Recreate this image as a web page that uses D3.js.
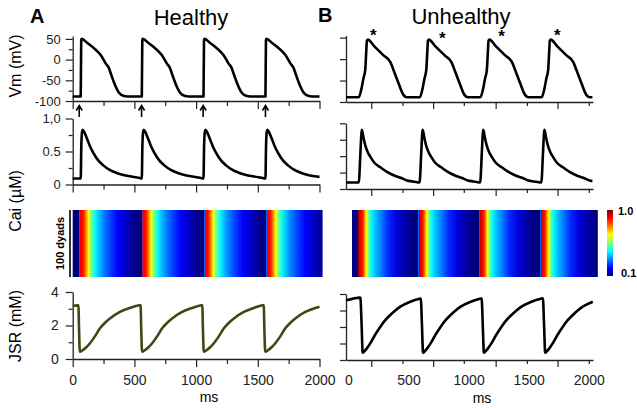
<!DOCTYPE html>
<html>
<head>
<meta charset="utf-8">
<script src="https://cdn.jsdelivr.net/npm/d3@7"></script>
<style>
  body { margin: 0; background: #fff; }
  svg { display: block; }
  text { font-family: "Liberation Sans", Arial, sans-serif; }
</style>
</head>
<body>
<div id="chart"></div>
<script>
// ---- data: [time (ms), value] ----
const vmHealthy = [[0,-89],[65,-89],[69,47],[73,50],[119,40],[173,27.5],[227,11],[267,-9],[294,-21],[308,-33],[327,-49],[348,-65],[375,-80],[416,-88],[443,-89],
  [560,-89],[564,47],[568,50],[614,40],[668,27.5],[722,11],[762,-9],[789,-21],[803,-33],[822,-49],[843,-65],[870,-80],[911,-88],[938,-89],
  [1060,-89],[1064,47],[1068,50],[1114,40],[1168,27.5],[1222,11],[1262,-9],[1289,-21],[1303,-33],[1322,-49],[1343,-65],[1370,-80],[1411,-88],[1438,-89],
  [1562,-89],[1566,47],[1570,50],[1616,40],[1670,27.5],[1724,11],[1764,-9],[1791,-21],[1805,-33],[1824,-49],[1845,-65],[1872,-80],[1913,-88],[1940,-89],[2000,-89]];

const caHealthy = [[0,0.09],[65,0.09],[70,0.6],[76,0.8],[81,0.83],[95,0.79],[113,0.71],[140,0.58],[167,0.48],[205,0.37],[248,0.29],[300,0.22],[356,0.175],[410,0.145],[464,0.125],[510,0.11],[544,0.10],
  [560,0.09],[565,0.6],[571,0.8],[576,0.83],[590,0.79],[608,0.71],[635,0.58],[662,0.48],[700,0.37],[743,0.29],[795,0.22],[851,0.175],[905,0.145],[959,0.125],[1005,0.11],[1039,0.10],
  [1060,0.09],[1065,0.6],[1071,0.8],[1076,0.83],[1090,0.79],[1108,0.71],[1135,0.58],[1162,0.48],[1200,0.37],[1243,0.29],[1295,0.22],[1351,0.175],[1405,0.145],[1459,0.125],[1505,0.11],[1539,0.10],
  [1562,0.09],[1567,0.6],[1573,0.8],[1578,0.83],[1592,0.79],[1610,0.71],[1637,0.58],[1664,0.48],[1702,0.37],[1745,0.29],[1797,0.22],[1853,0.175],[1907,0.145],[1961,0.125],[2000,0.115]];

const jsrHealthy = [[0,3.18],[46,3.2],[52,1.6],[58,0.44],[62,0.44],[80,0.52],[110,0.7],[140,0.94],[180,1.35],[221,1.83],[260,2.15],[302,2.42],[383,2.81],[464,3.05],[539,3.21],
  [550,3.22],[556,1.6],[562,0.44],[566,0.44],[584,0.52],[614,0.7],[644,0.94],[684,1.35],[725,1.83],[764,2.15],[806,2.42],[887,2.81],[968,3.05],[1043,3.21],
  [1050,3.22],[1056,1.6],[1062,0.44],[1066,0.44],[1084,0.52],[1114,0.7],[1144,0.94],[1184,1.35],[1225,1.83],[1264,2.15],[1306,2.42],[1387,2.81],[1468,3.05],[1540,3.21],
  [1548,3.22],[1554,1.6],[1560,0.44],[1564,0.44],[1582,0.52],[1612,0.7],[1642,0.94],[1682,1.35],[1723,1.83],[1762,2.15],[1804,2.42],[1885,2.81],[1966,3.05],[2000,3.12]];

const vmUnhealthy = [[-20,-89],[86,-89],[108,-70],[125,-45],[140,-25],[148,15],[154,43],[162,45.5],[210,31.6],[293,8.5],[349,-7],[376,-26],[418,-57],[459,-84],[487,-89],
  [594,-89],[616,-70],[633,-45],[648,-25],[656,15],[662,43],[670,45.5],[718,31.6],[801,8.5],[857,-7],[884,-26],[926,-57],[967,-84],[995,-89],
  [1098,-89],[1120,-70],[1137,-45],[1152,-25],[1160,15],[1166,43],[1174,45.5],[1222,31.6],[1305,8.5],[1361,-7],[1388,-26],[1430,-57],[1471,-84],[1499,-89],
  [1608,-89],[1630,-70],[1647,-45],[1662,-25],[1670,15],[1676,43],[1684,45.5],[1732,31.6],[1815,8.5],[1871,-7],[1898,-26],[1940,-57],[1981,-84],[2009,-89],[2030,-89]];

const caUnhealthy = [[-20,0.1],[86,0.1],[100,0.55],[108,0.84],[112,0.9],[118,0.86],[128,0.76],[141,0.66],[161,0.56],[183,0.49],[216,0.4],[266,0.33],[321,0.26],[376,0.21],[436,0.17],[487,0.13],[536,0.115],[583,0.1],
  [592,0.1],[606,0.55],[614,0.84],[618,0.9],[624,0.86],[634,0.76],[647,0.66],[667,0.56],[689,0.49],[722,0.4],[772,0.33],[827,0.26],[882,0.21],[942,0.17],[993,0.13],[1042,0.115],[1089,0.1],
  [1096,0.1],[1110,0.55],[1118,0.84],[1122,0.9],[1128,0.86],[1138,0.76],[1151,0.66],[1171,0.56],[1193,0.49],[1226,0.4],[1276,0.33],[1331,0.26],[1386,0.21],[1446,0.17],[1497,0.13],[1546,0.115],[1598,0.1],
  [1605,0.1],[1619,0.55],[1627,0.84],[1631,0.9],[1637,0.86],[1647,0.76],[1660,0.66],[1680,0.56],[1702,0.49],[1735,0.4],[1785,0.33],[1840,0.26],[1895,0.21],[1955,0.17],[2006,0.13],[2030,0.12]];

const jsrUnhealthy = [[-20,3.62],[40,3.72],[96,3.78],[100,3.75],[110,2.1],[118,0.5],[120,0.44],[132,0.52],[155,0.72],[183,1.02],[220,1.5],[266,2.02],[305,2.4],[349,2.73],[390,3.0],[432,3.23],[515,3.53],[584,3.7],[598,3.72],
  [602,3.73],[612,2.1],[620,0.5],[622,0.44],[634,0.52],[657,0.72],[685,1.02],[722,1.5],[768,2.02],[807,2.4],[851,2.73],[892,3.0],[934,3.23],[1017,3.53],[1086,3.7],[1104,3.73],
  [1108,3.74],[1118,2.1],[1126,0.5],[1128,0.44],[1140,0.52],[1163,0.72],[1191,1.02],[1228,1.5],[1274,2.02],[1313,2.4],[1357,2.73],[1398,3.0],[1440,3.23],[1523,3.53],[1592,3.7],[1606,3.72],
  [1618,3.74],[1628,2.1],[1636,0.5],[1638,0.44],[1650,0.52],[1673,0.72],[1701,1.02],[1738,1.5],[1784,2.02],[1823,2.4],[1867,2.73],[1908,3.0],[1950,3.23],[2033,3.53]];

// dyad Ca (same along all 100 dyads), colour value 0.1 .. 1.0
const heatHealthy = [[0,0.1],
  [51,0.1],[52,0.3],[57,0.3],[58,0.9],[83,0.88],[98,0.82],[113,0.74],[128,0.66],[148,0.55],[178,0.45],[208,0.39],[248,0.33],[303,0.27],[368,0.21],[438,0.16],[498,0.11],
  [559,0.1],[560,0.3],[565,0.3],[566,0.9],[591,0.88],[606,0.82],[621,0.74],[636,0.66],[656,0.55],[686,0.45],[716,0.39],[756,0.33],[811,0.27],[876,0.21],[946,0.16],[1006,0.11],
  [1063,0.1],[1064,0.3],[1069,0.3],[1070,0.9],[1095,0.88],[1110,0.82],[1125,0.74],[1140,0.66],[1160,0.55],[1190,0.45],[1220,0.39],[1260,0.33],[1315,0.27],[1380,0.21],[1450,0.16],[1510,0.11],
  [1568,0.1],[1569,0.3],[1574,0.3],[1575,0.9],[1600,0.88],[1615,0.82],[1630,0.74],[1645,0.66],[1665,0.55],[1695,0.45],[1725,0.39],[1765,0.33],[1820,0.27],[1885,0.21],[1955,0.16],[2025,0.12]];

const heatUnhealthy = [[30,0.1],
  [77,0.1],[78,0.3],[83,0.3],[84,0.97],[94,0.92],[119,0.87],[134,0.77],[149,0.66],[169,0.53],[189,0.44],[224,0.38],[274,0.32],[329,0.25],[404,0.18],[484,0.13],[544,0.1],
  [579,0.1],[580,0.3],[585,0.3],[586,0.97],[596,0.92],[621,0.87],[636,0.77],[651,0.66],[671,0.53],[691,0.44],[726,0.38],[776,0.32],[831,0.25],[906,0.18],[986,0.13],[1046,0.1],
  [1085,0.1],[1086,0.3],[1091,0.3],[1092,0.97],[1102,0.92],[1127,0.87],[1142,0.77],[1157,0.66],[1177,0.53],[1197,0.44],[1232,0.38],[1282,0.32],[1337,0.25],[1412,0.18],[1492,0.13],[1552,0.1],
  [1593,0.1],[1594,0.3],[1599,0.3],[1600,0.97],[1610,0.92],[1635,0.87],[1650,0.77],[1665,0.66],[1685,0.53],[1705,0.44],[1740,0.38],[1790,0.32],[1845,0.25],[1920,0.18],[2000,0.13],[2060,0.1],[2075,0.1]];

const stimTimes = [53, 558, 1057, 1562];              // arrows under healthy Vm
const starTimes = [207, 781, 1275, 1738];             // asterisks over unhealthy Vm
const starVm = [64, 56, 60, 64];

const jetLevels = [0.1, 0.2125, 0.4375, 0.6625, 0.8875, 1.0];
const jetColors = ["#00007f", "#0000ff", "#00ffff", "#ffff00", "#ff0000", "#7f0000"];

const xMajor = [0, 500, 1000, 1500, 2000];
const xMinor = [250, 750, 1250, 1750];
const xMajorB = [190, 705, 1225, 1740];
const xMinorB = [450, 960, 1485, 2000];
const vmTicks = [-100, -50, 0, 50];
const vmMinor = [-75, -25, 25];
const caTicks = [0, 0.5, 1];
const caLabels = ["0", "0.5", "1,0"];
const caMinor = [0.25, 0.75];
const jsrTicks = [0, 2, 4];
const jsrMinor = [1, 3];

// ---- svg ----
const svg = d3.select("#chart").append("svg")
    .attr("width", 637)
    .attr("height", 408);
const defs = svg.append("defs");

// x scales (panel B axis is shifted slightly in the original)
const xA = d3.scaleLinear().domain([0, 2000]).range([72.7, 319.5]);
const xB = d3.scaleLinear().domain([-20, 2035]).range([346, 593]);

// y scales per row
const yVmA = d3.scaleLinear().domain([-100, 57]).range([101, 36]);
const yVmB = d3.scaleLinear().domain([-100, 55]).range([102, 35.5]);
const yCaA = d3.scaleLinear().domain([0, 1]).range([184.5, 118.5]);
const yCaB = d3.scaleLinear().domain([0, 1]).range([189, 123.3]);
const yJsrA = d3.scaleLinear().domain([0, 4]).range([359, 292]);
const yJsrB = d3.scaleLinear().domain([0, 4]).range([360, 294]);
const heatTop = 210, heatBottom = 277;

const jet = d3.scaleLinear().domain(jetLevels).range(jetColors).clamp(true);

const axisColor = "#222";
function styleAxis(g, fontSize) {
    g.select(".domain").attr("stroke", axisColor).attr("stroke-width", 1.3);
    g.selectAll(".tick line").attr("stroke", axisColor).attr("stroke-width", 1.2);
    g.selectAll(".tick text").attr("fill", "#222")
        .style("font-family", '"Liberation Sans", Arial, sans-serif')
        .style("font-size", fontSize + "px");
    return g;
}
function minorAxis(axis, pos) {
    const g = svg.append("g").attr("transform", pos).call(axis);
    g.select(".domain").remove();
    g.selectAll(".tick line").attr("stroke", axisColor).attr("stroke-width", 1.2);
}

// ---- traces ----
function trace(data, x, y, color) {
    svg.append("path")
        .datum(data)
        .attr("fill", "none")
        .attr("stroke", color)
        .attr("stroke-width", 2.6)
        .attr("stroke-linejoin", "round")
        .attr("d", d3.line().x(d => x(d[0])).y(d => y(d[1])).curve(d3.curveMonotoneX));
}

// ===== Panel A =====
// Vm
svg.append("g").attr("transform", `translate(${xA.range()[0]},0)`)
    .call(d3.axisLeft(yVmA).tickValues(vmTicks).tickSize(7).tickPadding(5).tickSizeOuter(0).tickFormat(d => String(d)))
    .call(g => styleAxis(g, 13));
minorAxis(d3.axisLeft(yVmA).tickValues(vmMinor).tickSize(4).tickFormat(""), `translate(${xA.range()[0]},0)`);
svg.append("g").attr("transform", `translate(0,${yVmA(-100)})`)
    .call(d3.axisBottom(xA).tickValues(xMajor).tickSize(8).tickSizeOuter(0).tickFormat(""))
    .call(g => styleAxis(g, 13));
minorAxis(d3.axisBottom(xA).tickValues(xMinor).tickSize(5).tickFormat(""), `translate(0,${yVmA(-100)})`);
trace(vmHealthy, xA, yVmA, "#000");

// stimulus arrows
svg.append("g").selectAll("path")
    .data(stimTimes)
    .join("path")
    .attr("d", d => `M${xA(d)},${yVmA(-100) + 16}V${yVmA(-100) + 5}M${xA(d) - 3},${yVmA(-100) + 9.5}L${xA(d)},${yVmA(-100) + 4.5}L${xA(d) + 3},${yVmA(-100) + 9.5}`)
    .attr("fill", "none")
    .attr("stroke", "#000")
    .attr("stroke-width", 1.6);

// Cai
svg.append("g").attr("transform", `translate(${xA.range()[0]},0)`)
    .call(d3.axisLeft(yCaA).tickValues(caTicks).tickSize(7).tickPadding(5).tickSizeOuter(0).tickFormat(d => caLabels[caTicks.indexOf(d)]))
    .call(g => styleAxis(g, 13));
minorAxis(d3.axisLeft(yCaA).tickValues(caMinor).tickSize(4).tickFormat(""), `translate(${xA.range()[0]},0)`);
svg.append("g").attr("transform", `translate(0,${yCaA(0)})`)
    .call(d3.axisBottom(xA).tickValues(xMajor).tickSize(8).tickSizeOuter(0).tickFormat(""))
    .call(g => styleAxis(g, 13));
minorAxis(d3.axisBottom(xA).tickValues(xMinor).tickSize(5).tickFormat(""), `translate(0,${yCaA(0)})`);
trace(caHealthy, xA, yCaA, "#000");

// dyad heat map, drawn as a horizontal gradient
function heatmap(id, data, x) {
    const t0 = data[0][0], t1 = data[data.length - 1][0];
    const grad = defs.append("linearGradient")
        .attr("id", id)
        .attr("gradientUnits", "userSpaceOnUse")
        .attr("x1", x(t0)).attr("x2", x(t1))
        .attr("y1", 0).attr("y2", 0);
    grad.selectAll("stop")
        .data(data)
        .join("stop")
        .attr("offset", d => (x(d[0]) - x(t0)) / (x(t1) - x(t0)))
        .attr("stop-color", d => jet(d[1]));
    svg.append("rect")
        .attr("x", x(t0))
        .attr("y", heatTop)
        .attr("width", x(t1) - x(t0))
        .attr("height", heatBottom - heatTop)
        .attr("fill", `url(#${id})`);
}
heatmap("heatA", heatHealthy, xA);
svg.append("line")
    .attr("x1", 70).attr("x2", 70)
    .attr("y1", heatTop).attr("y2", heatBottom)
    .attr("stroke", "#000").attr("stroke-width", 1.6);
svg.append("text")
    .attr("transform", `translate(63.5,${(heatTop + heatBottom) / 2}) rotate(-90)`)
    .attr("text-anchor", "middle")
    .style("font-size", "11px")
    .style("font-weight", "bold")
    .text("100 dyads");

// JSR
svg.append("g").attr("transform", `translate(${xA.range()[0]},0)`)
    .call(d3.axisLeft(yJsrA).tickValues(jsrTicks).tickSize(7).tickPadding(7).tickSizeOuter(0).tickFormat(d3.format("d")))
    .call(g => styleAxis(g, 14));
minorAxis(d3.axisLeft(yJsrA).tickValues(jsrMinor).tickSize(4).tickFormat(""), `translate(${xA.range()[0]},0)`);
svg.append("g").attr("transform", `translate(0,${yJsrA(0)})`)
    .call(d3.axisBottom(xA).tickValues(xMajor).tickSize(8).tickPadding(8).tickSizeOuter(0).tickFormat(d3.format("d")))
    .call(g => styleAxis(g, 14));
minorAxis(d3.axisBottom(xA).tickValues(xMinor).tickSize(5).tickFormat(""), `translate(0,${yJsrA(0)})`);
trace(jsrHealthy, xA, yJsrA, "#3b4a14");

// ===== Panel B =====
const bLeft = xB.range()[0];
svg.append("g").attr("transform", `translate(${bLeft},0)`)
    .call(d3.axisLeft(yVmB).tickValues(vmTicks).tickSize(6).tickSizeOuter(0).tickFormat(""))
    .call(g => styleAxis(g, 13));
svg.append("g").attr("transform", `translate(${bLeft},0)`)
    .call(d3.axisLeft(yCaB).tickValues([0, 0.25, 0.5, 0.75, 1]).tickSize(6).tickSizeOuter(0).tickFormat(""))
    .call(g => styleAxis(g, 13));
svg.append("g").attr("transform", `translate(${bLeft},0)`)
    .call(d3.axisLeft(yJsrB).tickValues([0, 1, 2, 3, 4]).tickSize(6).tickSizeOuter(0).tickFormat(""))
    .call(g => styleAxis(g, 13));

[yVmB(-100), yCaB(0), yJsrB(0)].forEach(yPos => {
    svg.append("g").attr("transform", `translate(0,${yPos})`)
        .call(d3.axisBottom(xB).tickValues(xMajorB).tickSize(7).tickSizeOuter(0).tickFormat(""))
        .call(g => styleAxis(g, 13));
    minorAxis(d3.axisBottom(xB).tickValues(xMinorB).tickSize(4).tickFormat(""), `translate(0,${yPos})`);
});
// tick labels of B sit on round numbers, independent of the tick marks
svg.append("g").attr("transform", `translate(0,${yJsrB(0)})`)
    .call(d3.axisBottom(xB).tickValues(xMajor).tickSize(0).tickPadding(15).tickFormat(d3.format("d")))
    .call(g => g.select(".domain").remove())
    .call(g => styleAxis(g, 14));

trace(vmUnhealthy, xB, yVmB, "#000");
trace(caUnhealthy, xB, yCaB, "#000");
heatmap("heatB", heatUnhealthy, xB);
trace(jsrUnhealthy, xB, yJsrB, "#000");

svg.append("g").selectAll("text")
    .data(starTimes)
    .join("text")
    .attr("x", d => xB(d))
    .attr("y", (d, i) => yVmB(starVm[i]) + 9)
    .attr("text-anchor", "middle")
    .style("font-size", "17px")
    .style("font-weight", "bold")
    .text("*");

// colour bar
const yBar = d3.scaleLinear().domain([0.1, 1]).range([276, 210]);
const barGrad = defs.append("linearGradient")
    .attr("id", "jetBar")
    .attr("gradientUnits", "userSpaceOnUse")
    .attr("x1", 0).attr("x2", 0)
    .attr("y1", yBar(0.1)).attr("y2", yBar(1));
barGrad.selectAll("stop")
    .data(jetLevels)
    .join("stop")
    .attr("offset", d => (d - 0.1) / 0.9)
    .attr("stop-color", d => jet(d));
svg.append("rect")
    .attr("x", 607).attr("y", yBar(1))
    .attr("width", 6).attr("height", yBar(0.1) - yBar(1))
    .attr("fill", "url(#jetBar)");
svg.append("text").attr("x", 618).attr("y", yBar(1) + 5)
    .style("font-size", "11px").style("font-weight", "bold").text("1.0");
svg.append("text").attr("x", 621).attr("y", yBar(0.1) + 1)
    .style("font-size", "11px").style("font-weight", "bold").text("0.1");

// ---- titles and labels ----
svg.append("text").attr("x", 30).attr("y", 23).style("font-size", "20px").style("font-weight", "bold").text("A");
svg.append("text").attr("x", 318).attr("y", 22).style("font-size", "20px").style("font-weight", "bold").text("B");
svg.append("text").attr("x", 191).attr("y", 25).attr("text-anchor", "middle").style("font-size", "22px").text("Healthy");
svg.append("text").attr("x", 461).attr("y", 24).attr("text-anchor", "middle").style("font-size", "22px").text("Unhealthy");

const yTitles = [["Vm (mV)", 66], ["Cai (µM)", 201], ["JSR (mM)", 326]];
svg.append("g").selectAll("text")
    .data(yTitles)
    .join("text")
    .attr("transform", d => `translate(21,${d[1]}) rotate(-90)`)
    .attr("text-anchor", "middle")
    .style("font-size", "16px")
    .text(d => d[0]);

svg.append("text").attr("x", 209).attr("y", 402).attr("text-anchor", "middle").style("font-size", "14px").text("ms");
svg.append("text").attr("x", 482).attr("y", 403).attr("text-anchor", "middle").style("font-size", "14px").text("ms");
</script>
</body>
</html>
